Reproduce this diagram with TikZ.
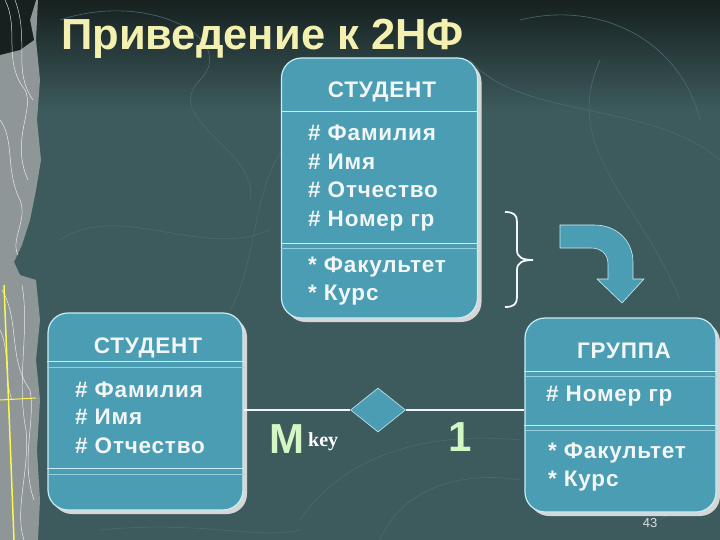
\documentclass[tikz,border=0pt]{standalone}
\usepackage{fontspec}
\setmainfont{Liberation Sans}
\newfontfamily\keyfont{Liberation Serif}
\newfontfamily\boxfont[LetterSpace=3.5]{Liberation Sans}
\usetikzlibrary{shapes.geometric,shadows}
\definecolor{bg}{HTML}{3D5A5C}
\definecolor{bgtop}{HTML}{16201F}
\definecolor{contour}{HTML}{4D6B6D}
\definecolor{boxfill}{HTML}{4A9DB3}
\definecolor{boxline}{HTML}{C8EEF5}
\definecolor{shadowc}{HTML}{D6D6D6}
\definecolor{titlec}{HTML}{F3F0B0}
\definecolor{greenc}{HTML}{D4F5C4}
\definecolor{txt}{HTML}{F2F6F6}
\definecolor{stripc}{HTML}{8E9697}
\begin{document}
\begin{tikzpicture}[x=1pt,y=-1pt,
  entity/.style={draw=boxline, line width=1.2pt, fill=boxfill, rounded corners=20pt, inner sep=0pt,
    drop shadow={fill=shadowc, shadow xshift=4pt, shadow yshift=-4pt, opacity=1}},
  sepline/.style={draw=boxline, line width=0.8pt},
  sepline2/.style={draw=boxline!60!boxfill, line width=0.6pt},
  attr/.style={anchor=base west, inner sep=0pt, text=txt, font=\boxfont\bfseries\fontsize{22.5}{24}\selectfont},
  head/.style={anchor=base, inner sep=0pt, text=txt, font=\boxfont\bfseries\fontsize{22.5}{24}\selectfont},
  link/.style={draw=txt, line width=1.5pt},
  card/.style={anchor=base, inner sep=0pt, text=greenc, font=\bfseries\fontsize{42}{46}\selectfont}]
\useasboundingbox (0,0) rectangle (720,540);
% background
\fill[bg] (0,0) rectangle (720,540);
\fill[top color=bgtop, bottom color=bg] (0,0) rectangle (720,110);
% faint contour lines
\begin{scope}[draw=contour, line width=0.6pt]
\draw (60,20) .. controls (150,-10) and (240,40) .. (200,80) .. controls (160,120) and (260,150) .. (250,200);
\draw (300,130) .. controls (250,170) and (260,260) .. (230,310);
\draw (520,20) .. controls (600,0) and (680,40) .. (700,120);
\draw (470,60) .. controls (520,120) and (650,100) .. (720,160);
\draw (60,240) .. controls (120,200) and (200,260) .. (270,230);
\draw (600,60) .. controls (560,150) and (640,200) .. (680,300);
\draw (300,520) .. controls (340,460) and (420,430) .. (520,440);
\draw (380,540) .. controls (400,490) and (460,470) .. (520,480);
\draw (660,520) .. controls (690,500) and (700,470) .. (720,460);
\draw (100,530) .. controls (200,520) and (260,540) .. (300,530);
\end{scope}
% left decorative strip
\fill[stripc] (0,0) -- (38,0) -- (36,40) -- (40,80) -- (37,120) -- (41,160) -- (36,190) -- (30,220) -- (22,245) -- (14,262)
  -- (20,275) -- (36,280) -- (40,320) -- (36,360) -- (40,400) -- (37,450) -- (40,500) -- (38,540) -- (0,540) -- cycle;
\fill[bgtop] (0,0) -- (36,0) -- (30,20) -- (34,40) -- (20,50) -- (0,55) -- cycle;
\begin{scope}[draw=white, line width=0.5pt, opacity=0.8]
\draw (5,0) .. controls (20,30) and (2,60) .. (25,90) .. controls (35,110) and (10,140) .. (28,180);
\draw (15,0) .. controls (30,40) and (12,70) .. (33,100);
\draw (0,120) .. controls (15,140) and (5,170) .. (20,200) .. controls (28,220) and (10,240) .. (18,255);
\draw (2,290) .. controls (20,320) and (8,360) .. (30,390) .. controls (36,420) and (20,460) .. (34,500);
\draw (22,285) .. controls (30,330) and (16,380) .. (26,430) .. controls (30,470) and (14,510) .. (24,540);
\draw (0,330) .. controls (10,350) and (4,380) .. (12,400);
\end{scope}
\draw[yellow!70!white, line width=1.5pt] (4,285) -- (14,540);
\draw[yellow!70!white, line width=1pt] (0,400) -- (36,398);
% title
\node[anchor=base west, inner sep=0pt, text=titlec, font=\bfseries\fontsize{43.5}{46}\selectfont] (title) at (61,50) {Приведение к 2НФ};
% top entity
\node[entity, minimum width=196pt, minimum height=260pt] (stud1) at (379.5,188) {};
\draw[sepline] (stud1.west |- 0,111) -- (stud1.east |- 0,111);
\draw[sepline] (stud1.west |- 0,243) -- (stud1.east |- 0,243);
\draw[sepline2] (stud1.west |- 0,248) -- (stud1.east |- 0,248);
\node[head] (s1h) at (382,98) {СТУДЕНТ};
\node[attr] (s1a) at (308,141) {\# Фамилия};
\node[attr] (s1b) at (308,170) {\# Имя};
\node[attr] (s1c) at (308,198) {\# Отчество};
\node[attr] (s1d) at (308,226) {\# Номер гр};
\node[attr] (s1e) at (308,272) {* Факультет};
\node[attr] (s1f) at (308,300) {* Курс};
% brace
\draw[draw=txt, line width=1.8pt] (505,212) .. controls (514,212) and (517,215) .. (517,222) -- (517,250)
  .. controls (517,257) and (522,260) .. (533,260) .. controls (522,260) and (517,263) .. (517,270)
  -- (517,297) .. controls (517,304) and (514,307) .. (505,307);
% curved arrow
\filldraw[fill=boxfill, draw=boxline, line width=0.6pt] (560,225) -- (594,225)
  .. controls (618,225) and (633,242) .. (633,262) -- (633,279) -- (644,279) -- (622,303) -- (597,279) -- (608,279)
  -- (608,264) .. controls (608,254) and (601,248) .. (591,248) -- (560,248) -- cycle;
% left entity
\node[entity, minimum width=195pt, minimum height=197pt] (stud2) at (145.5,411.5) {};
\draw[sepline] (stud2.west |- 0,361) -- (stud2.east |- 0,361);
\draw[sepline2] (stud2.west |- 0,367) -- (stud2.east |- 0,367);
\draw[sepline] (stud2.west |- 0,468) -- (stud2.east |- 0,468);
\draw[sepline2] (stud2.west |- 0,474) -- (stud2.east |- 0,474);
\node[head] (s2h) at (148,353) {СТУДЕНТ};
\node[attr] (s2a) at (75,397) {\# Фамилия};
\node[attr] (s2b) at (75,424) {\# Имя};
\node[attr] (s2c) at (75,453) {\# Отчество};
% right entity
\node[entity, minimum width=191pt, minimum height=194pt] (grp) at (620.5,415) {};
\draw[sepline] (grp.west |- 0,371) -- (grp.east |- 0,371);
\draw[sepline2] (grp.west |- 0,376) -- (grp.east |- 0,376);
\draw[sepline] (grp.west |- 0,425) -- (grp.east |- 0,425);
\draw[sepline2] (grp.west |- 0,430) -- (grp.east |- 0,430);
\node[head] (gh) at (624,358) {ГРУППА};
\node[attr] (ga) at (546,401) {\# Номер гр};
\node[attr] (gb) at (548,458) {* Факультет};
\node[attr] (gc) at (548,486) {* Курс};
\node[anchor=base, inner sep=0pt, text=txt!80!gray, font=\fontsize{13}{15}\selectfont] (pg) at (650,527) {43};
% relationship
\node[diamond, draw=boxline, line width=0.6pt, fill=boxfill, minimum width=55pt, minimum height=44pt, inner sep=0pt] (rel) at (378,410) {};
\draw[link] (stud2.east |- rel.west) -- (rel.west);
\draw[link] (rel.east) -- (grp.west |- rel.east);
\node[card] (m) at (287,453) {M};
\node[anchor=base west, inner sep=0pt, text=white, font=\keyfont\bfseries\fontsize{20}{22}\selectfont] (key) at (308,446) {key};
\node[card] (one) at (460,451) {1};
\end{tikzpicture}
\end{document}
